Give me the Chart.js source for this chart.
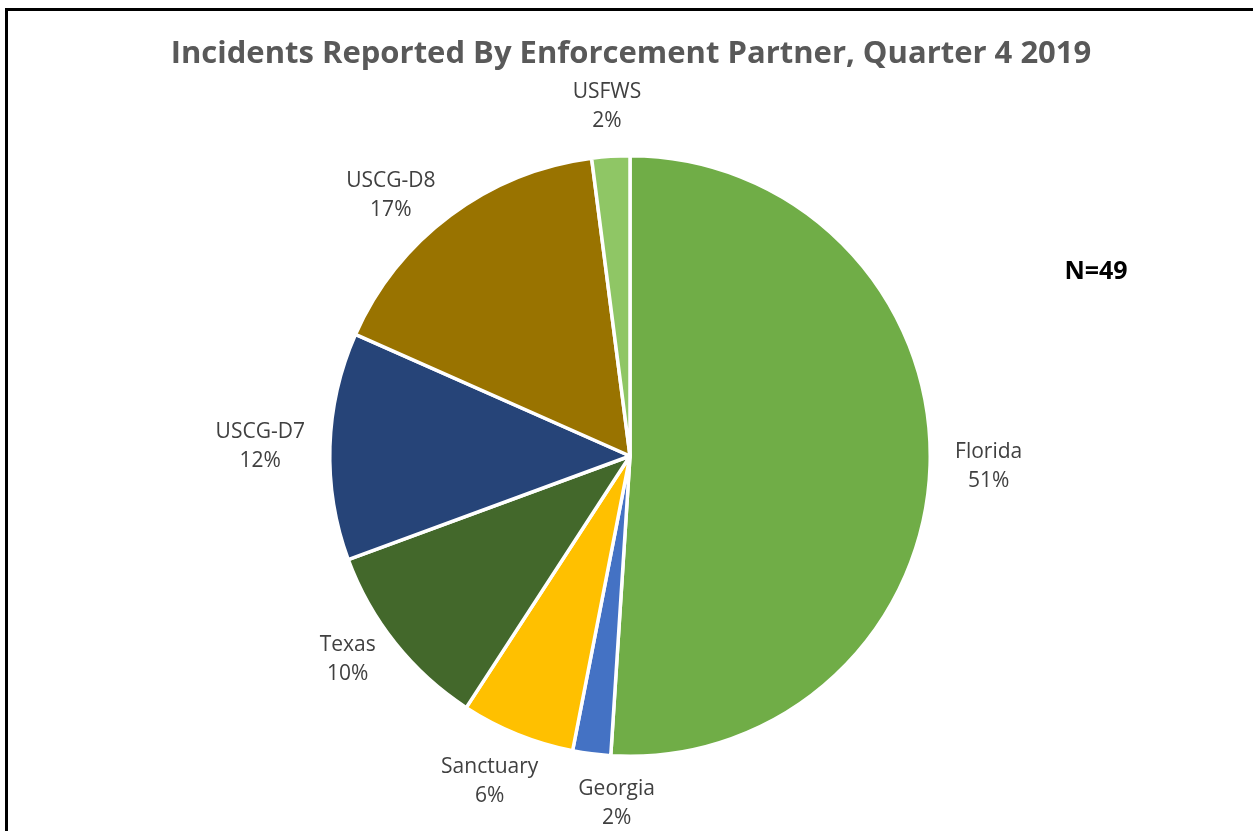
<!DOCTYPE html>
<html>
<head>
<meta charset="utf-8">
<script src="https://cdn.jsdelivr.net/npm/chart.js@4/dist/chart.umd.min.js"></script>
<style>
  html, body { margin: 0; padding: 0; background: #fff; }
  #wrap { position: relative; width: 1253px; height: 831px; overflow: hidden; }
  #frame { position: absolute; left: 5px; top: 8px; right: -10px; bottom: -10px;
           border-left: 3px solid #000; border-top: 3px solid #000; pointer-events: none; }
  canvas { position: absolute; left: 0; top: 0; }
</style>
</head>
<body>
<div id="wrap">
  <canvas id="pie" width="1253" height="831"></canvas>
  <div id="frame"></div>
</div>
<script>
// ── data ─────────────────────────────────────────────
const partners = ['Florida', 'Georgia', 'Sanctuary', 'Texas', 'USCG-D7', 'USCG-D8', 'USFWS'];
const incidents = [25, 1, 3, 5, 6, 8, 1];
const sliceColors = ['#70AD47', '#4472C4', '#FFC000', '#43682B', '#264478', '#997300', '#8FC665'];
const chartTitle = 'Incidents Reported By Enforcement Partner, Quarter 4 2019';
const totalNote = 'N=' + incidents.reduce((a, b) => a + b, 0);

const LABEL_FONT = '21px "Open Sans", sans-serif';
const LABEL_COLOR = '#404040';

// whole percentages that add up to 100 (largest remainder)
function roundedPercents(vals) {
    const total = vals.reduce((a, b) => a + b, 0);
    const raw = vals.map(v => v / total * 100);
    const out = raw.map(Math.floor);
    let left = 100 - out.reduce((a, b) => a + b, 0);
    const order = raw.map((v, i) => i).sort((a, b) => (raw[b] - out[b]) - (raw[a] - out[a]));
    for (let k = 0; k < left; k++) out[order[k]]++;
    return out;
}

// outside-end labels, anchored just beyond each arc's mid-angle
const outsideLabels = {
    id: 'outsideLabels',
    afterDatasetsDraw(chart) {
        const { ctx } = chart;
        const meta = chart.getDatasetMeta(0);
        const pcts = roundedPercents(incidents);
        ctx.save();
        ctx.font = LABEL_FONT;
        ctx.fillStyle = LABEL_COLOR;
        ctx.textAlign = 'center';
        ctx.textBaseline = 'middle';

        const boxes = meta.data.map((arc, i) => {
            const mid = (arc.startAngle + arc.endAngle) / 2;
            const dx = Math.cos(mid), dy = Math.sin(mid);
            const name = partners[i];
            const pct = pcts[i] + '%';
            const hw = Math.max(ctx.measureText(name).width, ctx.measureText(pct).width) / 2;
            const hh = 25;
            const d = arc.outerRadius + 25;
            const ax = arc.x + dx * d, ay = arc.y + dy * d;
            let cx, cy;
            if (Math.abs(dy) > 0.9) { cx = ax + dx * hw; cy = ay + dy * hh; }
            else { cx = ax + Math.sign(dx) * hw; cy = ay; }
            return { name, pct, cx, cy, hw, hh, v: incidents[i] };
        });

        // keep neighbouring labels apart: nudge the smaller one sideways
        const minGap = 40;
        for (let i = 1; i < boxes.length; i++) {
            const a = boxes[i - 1], b = boxes[i];
            const vOverlap = Math.abs(a.cy - b.cy) < a.hh + b.hh;
            if (!vOverlap) continue;
            const left = a.cx < b.cx ? a : b, right = left === a ? b : a;
            const gap = (right.cx - right.hw) - (left.cx + left.hw);
            if (gap < minGap) {
                const push = minGap - gap;
                if (right.v <= left.v) right.cx += push; else left.cx -= push;
            }
        }

        boxes.forEach(b => {
            ctx.fillText(b.name, b.cx, b.cy - 14);
            ctx.fillText(b.pct, b.cx, b.cy + 15);
        });
        ctx.restore();
    }
};

// title and N note
const headerText = {
    id: 'headerText',
    afterDraw(chart) {
        const { ctx } = chart;
        ctx.save();
        ctx.textAlign = 'center';
        ctx.textBaseline = 'alphabetic';
        ctx.fillStyle = '#595959';
        ctx.font = 'bold 31px "Open Sans", sans-serif';
        ctx.fillText(chartTitle, 631, 63);
        ctx.fillStyle = '#000';
        ctx.font = 'bold 25px "Open Sans", sans-serif';
        ctx.fillText(totalNote, 1096, 279);
        ctx.restore();
    }
};

new Chart(document.getElementById('pie'), {
    type: 'pie',
    data: {
        labels: partners,
        datasets: [{
            data: incidents,
            backgroundColor: sliceColors,
            borderColor: '#fff',
            borderWidth: 3.5,
        }],
    },
    options: {
        responsive: false,
        animation: false,
        devicePixelRatio: 1,
        layout: { padding: { top: 154, bottom: 73, left: 328, right: 321 } },
        plugins: {
            legend: { display: false },
            tooltip: { enabled: false },
            title: { display: false },
        },
    },
    plugins: [outsideLabels, headerText],
});
</script>
</body>
</html>
